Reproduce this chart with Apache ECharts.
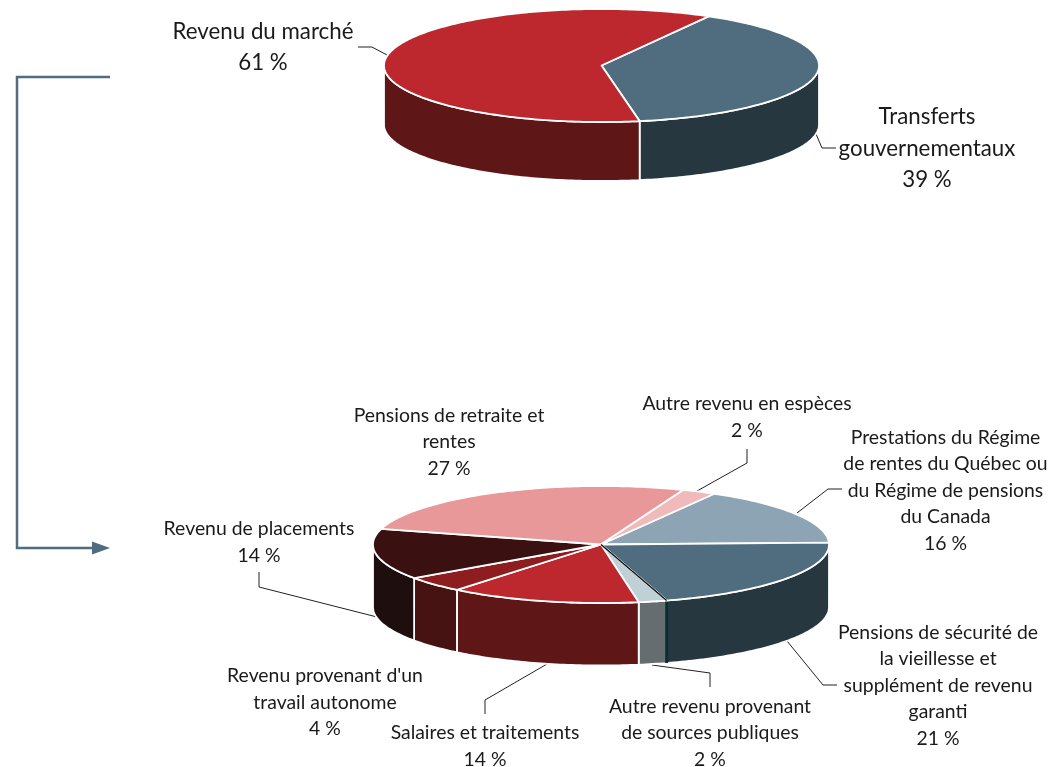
<!DOCTYPE html>
<html>
<head>
<meta charset="utf-8">
<title>Revenu</title>
<script src="https://cdn.jsdelivr.net/npm/echarts@6/dist/echarts.min.js"></script>
<style>
    html, body { margin: 0; padding: 0; background: #fff; }
    #main { width: 1063px; height: 767px; }
</style>
</head>
<body>
<div id="main"></div>
<script>
// clockwise, starting from the slice after the top of the pie
const topNames = ['Transferts\ngouvernementaux', 'Revenu du marché'];
const topValues = [39, 61];

const bottomNames = [
    'Prestations du Régime\nde rentes du Québec ou\ndu Régime de pensions\ndu Canada',
    'Pensions de sécurité de\nla vieillesse et\nsupplément de revenu\ngaranti',
    'Autre revenu provenant\nde sources publiques',
    'Salaires et traitements',
    "Revenu provenant d'un\ntravail autonome",
    'Revenu de placements',
    'Pensions de retraite et\nrentes',
    'Autre revenu en espèces'
];
// slice sizes, the labels show them rounded
const bottomValues = [16.2, 20.8, 2, 13.5, 4.4, 14, 26.5, 2.4];

const topColors = ['#506d7f', '#bc282e'];
const topWalls = ['#27373f', '#5e1616'];
const bottomColors = ['#8ca4b3', '#506d7f', '#bfd0d7', '#bc282e', '#8e1d1f', '#3a1011', '#e89899', '#f0baba'];
const bottomWalls = ['#27373f', '#27373f', '#656d70', '#5e1616', '#471212', '#1e0e0d', '#5e1616', '#5e1616'];

const topPie = {
    cx: 601.5, cy: 65.5, rx: 217.5, ry: 56.5, depth: 59, start: 29.5, fontSize: 22.3, lineHeight: 31.5,
    colors: topColors, walls: topWalls,
    labels: [[927, 148.5], [263, 47.5]],
    leaders: [
        [[836, 148], [822, 148], [816, 134]],
        [[358, 47], [372, 47], [387, 55]]
    ]
};
const bottomPie = {
    cx: 601, cy: 544.5, rx: 228, ry: 58.5, depth: 62.5, start: 29.8, fontSize: 19.4, lineHeight: 26.6,
    colors: bottomColors, walls: bottomWalls, accentSlice: 1,
    labels: [[945.5, 490.5], [938, 685.5], [710, 733], [485, 746], [325, 702.5], [259, 542], [449, 442], [747, 417]],
    leaders: [
        [[842, 489], [828, 489], [797, 513]],
        [[837, 685], [823, 685], [787, 641]],
        [[710, 687], [710, 673], [652, 665]],
        [[485, 714], [485, 700], [547, 664]],
        null,
        [[259, 572], [259, 587], [377, 617]],
        null,
        [[747, 449], [747, 463], [697, 491]]
    ]
};

function rim(pie, deg, drop) {
    let a = deg * Math.PI / 180;
    return [pie.cx + pie.rx * Math.sin(a), pie.cy - pie.ry * Math.cos(a) + (drop || 0)];
}

function arc(pie, from, to, drop) {
    let pts = [];
    let steps = Math.max(1, Math.ceil(to - from));
    for (let i = 0; i <= steps; i++) {
        pts.push(rim(pie, from + (to - from) * i / steps, drop));
    }
    return pts;
}

function pieSeries(pie, names, values) {
    let total = values.reduce((s, v) => s + v, 0);
    return {
        type: 'custom',
        coordinateSystem: 'none',
        silent: true,
        animation: false,
        data: values,
        renderItem: function (params, api) {
            let i = params.dataIndex;
            let before = values.slice(0, i).reduce((s, v) => s + v, 0);
            let a0 = pie.start + before / total * 360;
            let a1 = a0 + values[i] / total * 360;
            let children = [];

            // only the front half of the pie shows a wall
            let w0 = Math.max(a0, 90);
            let w1 = Math.min(a1, 270);
            if (w1 > w0) {
                children.push({
                    type: 'polygon',
                    z2: 1,
                    shape: { points: arc(pie, w0, w1, 0).concat(arc(pie, w0, w1, pie.depth).reverse()) },
                    style: { fill: pie.walls[i], stroke: '#fff', lineWidth: 1.8 }
                });
            }
            children.push({
                type: 'polygon',
                z2: 2,
                shape: { points: [[pie.cx, pie.cy]].concat(arc(pie, a0, a1, 0)) },
                style: { fill: pie.colors[i], stroke: '#fff', lineWidth: 1.8, lineJoin: 'round' }
            });

            if (pie.accentSlice === i) {
                // the dark edge of this slice in the original
                let p = rim(pie, a1, 0);
                children.push({
                    type: 'line',
                    z2: 3,
                    shape: { x1: pie.cx, y1: pie.cy, x2: p[0], y2: p[1] },
                    style: { stroke: '#111', lineWidth: 1.5 }
                });
                children.push({
                    type: 'line',
                    z2: 3,
                    shape: { x1: p[0], y1: p[1] + 1, x2: p[0], y2: p[1] + pie.depth },
                    style: { stroke: '#06302f', lineWidth: 3 }
                });
            }

            if (pie.leaders[i]) {
                children.push({
                    type: 'polyline',
                    z2: 0,
                    shape: { points: pie.leaders[i] },
                    style: { stroke: '#222', lineWidth: 1, fill: null }
                });
            }
            children.push({
                type: 'text',
                z2: 4,
                style: {
                    text: names[i] + '\n' + Math.round(values[i]) + ' %',
                    x: pie.labels[i][0],
                    y: pie.labels[i][1],
                    align: 'center',
                    verticalAlign: 'middle',
                    fontFamily: 'Lato',
                    fontSize: pie.fontSize,
                    lineHeight: pie.lineHeight,
                    fill: '#1a1a1a'
                }
            });
            return { type: 'group', children: children };
        }
    };
}

let option = {
    backgroundColor: '#fff',
    animation: false,
    graphic: [
        {
            type: 'polyline',
            shape: { points: [[110, 77], [17, 77], [17, 548], [93, 548]] },
            style: { stroke: '#506d7f', lineWidth: 2.5, fill: null }
        },
        {
            type: 'polygon',
            shape: { points: [[92, 541.5], [110, 548], [92, 554.5]] },
            style: { fill: '#506d7f' }
        }
    ],
    series: [
        pieSeries(topPie, topNames, topValues),
        pieSeries(bottomPie, bottomNames, bottomValues)
    ]
};

let myChart = echarts.init(document.getElementById('main'));
myChart.setOption(option);
</script>
</body>
</html>
